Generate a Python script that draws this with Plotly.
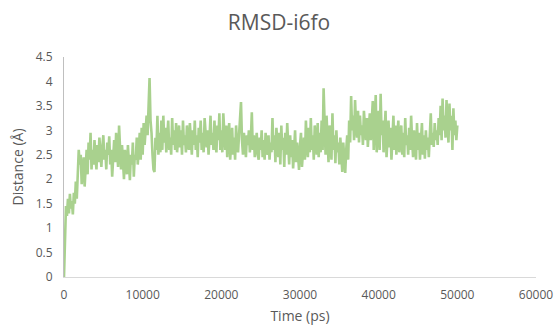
import plotly.graph_objects as go

# RMSD trajectory of i6fo, sampled every 125 ps from 0 to 50000 ps
time_step_ps = 125
rmsd_angstrom = [
    0.0, 1.15, 1.45, 1.25, 1.6, 1.3, 1.7, 1.4, 1.55, 1.28, 1.72, 1.5, 1.95, 1.6, 2.1, 2.6, 2.3, 2.5, 1.9, 2.2,
    2.45, 1.85, 2.3, 2.6, 2.1, 2.75, 2.4, 2.95, 2.2, 2.6, 2.3, 2.8, 2.45, 2.2, 2.7, 2.35, 2.85, 2.5, 2.25, 2.65,
    2.9, 2.4, 2.6, 2.2, 2.75, 2.5, 2.88, 2.3, 2.6, 2.05, 2.5, 2.8, 2.35, 2.95, 2.6, 2.25, 3.1, 2.5, 2.2, 2.7,
    2.4, 2.0, 2.6, 2.3, 2.1, 2.7, 2.2, 1.98, 2.5, 2.3, 2.75, 2.05, 2.5, 2.4, 2.85, 2.3, 2.6, 2.95, 2.4, 3.05,
    2.5, 3.15, 2.7, 3.0, 3.3, 2.9, 3.6, 4.07, 3.2, 2.95, 2.5, 2.2, 2.15, 2.85, 2.6, 3.3, 2.5, 2.95, 2.55, 3.2,
    2.6, 3.3, 2.75, 3.05, 2.55, 2.95, 3.2, 2.6, 2.85, 2.5, 3.25, 2.7, 3.0, 2.6, 3.15, 2.55, 2.8, 3.1, 2.65, 3.0,
    2.5, 3.2, 2.7, 2.9, 2.55, 3.1, 2.75, 2.6, 3.15, 2.8, 2.5, 3.0, 2.7, 3.2, 2.6, 2.9, 2.45, 3.05, 2.75, 3.2,
    2.6, 2.95, 2.55, 3.25, 2.8, 2.65, 3.0, 2.5, 2.85, 3.3, 2.7, 2.95, 2.6, 3.2, 2.75, 2.55, 3.1, 2.8, 3.35, 2.6,
    3.0, 2.55, 3.35, 2.8, 2.6, 3.1, 2.45, 2.9, 3.15, 2.4, 2.75, 3.05, 2.5, 2.85, 2.4, 3.1, 2.7, 2.55, 2.9, 3.3,
    3.58, 2.8, 2.5, 2.95, 2.6, 2.45, 2.9, 2.7, 3.0, 2.55, 2.8, 3.37, 2.6, 2.9, 2.45, 2.75, 2.95, 2.5, 2.4, 2.85,
    2.6, 3.0, 2.45, 2.8, 2.4, 2.95, 2.7, 2.5, 2.9, 2.4, 2.75, 2.55, 3.25, 2.6, 2.9, 2.35, 3.05, 2.7, 2.45, 2.95,
    2.3, 3.1, 2.6, 2.85, 2.25, 2.95, 2.5, 3.15, 2.7, 2.3, 2.9, 2.45, 2.8, 2.22, 2.6, 3.0, 2.35, 2.75, 2.5, 2.19,
    2.7, 2.95, 2.25, 2.6, 2.85, 2.4, 3.2, 2.7, 2.45, 3.05, 2.55, 3.25, 2.6, 2.9, 2.4, 3.1, 2.7, 2.5, 3.15, 2.45,
    2.95, 2.55, 3.2, 2.6, 3.86, 3.0, 2.5, 3.3, 2.65, 2.35, 3.1, 2.8, 2.4, 3.35, 2.6, 2.9, 2.33, 3.0, 2.55, 2.75,
    2.3, 2.85, 2.4, 2.15, 2.75, 2.5, 2.13, 2.6, 2.9, 2.4, 3.2, 2.75, 3.7, 3.0, 3.3, 2.8, 3.62, 3.1, 2.85, 3.4,
    2.75, 3.3, 2.9, 3.1, 2.7, 3.4, 2.95, 2.8, 3.25, 2.66, 3.05, 3.35, 2.8, 3.1, 3.6, 2.6, 3.2, 3.72, 2.55, 3.0,
    3.4, 2.6, 3.75, 2.9, 3.2, 2.55, 3.0, 3.4, 2.45, 2.8, 3.2, 2.65, 3.05, 2.4, 2.9, 3.3, 2.6, 3.1, 2.5, 2.95,
    3.2, 2.55, 2.85, 3.1, 2.5, 2.95, 2.45, 3.25, 2.7, 2.9, 2.5, 3.05, 2.6, 3.3, 2.8, 2.45, 3.0, 2.65, 2.4, 3.15,
    2.6, 2.95, 2.4, 2.8, 3.15, 2.5, 2.9, 2.42, 3.0, 2.6, 2.85, 2.45, 3.1, 3.35, 2.7, 2.95, 2.66, 3.15, 2.8, 3.0,
    2.7, 3.25, 2.9, 3.5, 2.8, 3.65, 3.0, 3.3, 2.85, 3.62, 3.1, 2.75, 3.55, 3.0, 3.3, 2.6, 3.45, 2.9, 3.2, 2.8,
    3.1,
]
time_ps = [i * time_step_ps for i in range(len(rmsd_angstrom))]

x_ticks = [0, 10000, 20000, 30000, 40000, 50000, 60000]
y_ticks = [0, 0.5, 1, 1.5, 2, 2.5, 3, 3.5, 4, 4.5]
y_tick_text = ["0", "0.5", "1", "1.5", "2", "2.5", "3", "3.5", "4", "4.5"]

font_family = "Open Sans, Noto Sans, sans-serif"
text_grey = "#595959"

fig = go.Figure(
    go.Scatter(
        x=time_ps,
        y=rmsd_angstrom,
        mode="lines",
        line=dict(color="#A9D18E", width=2.6),
        hoverinfo="x+y",
    )
)

fig.update_layout(
    width=558,
    height=329,
    margin=dict(l=64, r=22, t=57, b=52, autoexpand=False),
    paper_bgcolor="white",
    plot_bgcolor="white",
    showlegend=False,
    title=dict(
        text="RMSD-i6fo",
        x=0.5,
        xanchor="center",
        y=0.93,
        yanchor="middle",
        font=dict(family=font_family, size=21, color=text_grey),
    ),
    font=dict(family=font_family, size=12, color=text_grey),
)

fig.update_xaxes(
    range=[0, 60000],
    tickvals=x_ticks,
    ticktext=[str(v) for v in x_ticks],
    showgrid=False,
    zeroline=False,
    showline=True,
    linecolor="#D9D9D9",
    linewidth=1,
    ticks="",
    ticklabelstandoff=7,
    automargin=False,
    title=dict(text="Time (ps)", font=dict(size=14, color=text_grey), standoff=8),
)

fig.update_yaxes(
    range=[0, 4.5],
    tickvals=y_ticks,
    ticktext=y_tick_text,
    showgrid=False,
    zeroline=False,
    showline=True,
    linecolor="#BFBFBF",
    linewidth=1,
    ticks="",
    ticklabelstandoff=8,
    automargin=False,
    title=dict(text="Distance (Å)", font=dict(size=14, color=text_grey), standoff=8),
)

fig.write_html("out.html")
